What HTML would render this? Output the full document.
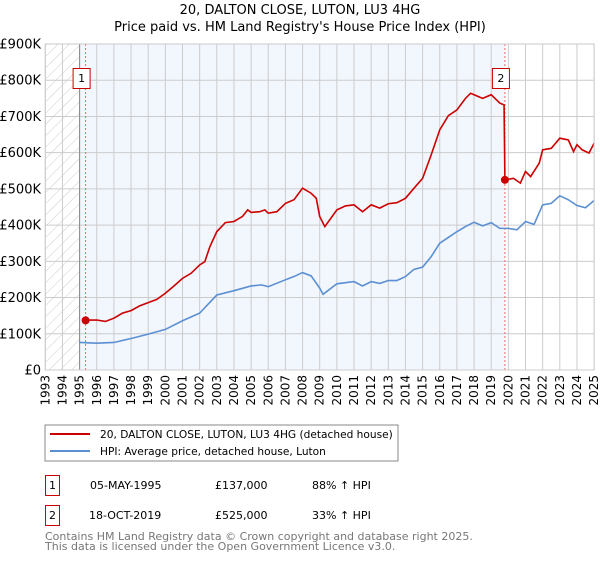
<!DOCTYPE html>
<html><head><meta charset="utf-8"><style>
body{margin:0;background:#fff;font-family:"DejaVu Sans","Liberation Sans",sans-serif;}
svg text{font-family:"DejaVu Sans","Liberation Sans",sans-serif;}
</style></head><body>
<svg id="c" width="600" height="560" xmlns="http://www.w3.org/2000/svg">
<defs><pattern id="hatch" width="8" height="8" patternUnits="userSpaceOnUse" patternTransform="rotate(45)"><line x1="0" y1="0" x2="0" y2="8" stroke="#ccc" stroke-width="1"/></pattern></defs>
<text x="300" y="14" text-anchor="middle" font-size="13">20, DALTON CLOSE, LUTON, LU3 4HG</text>
<text x="300" y="31" text-anchor="middle" font-size="13">Price paid vs. HM Land Registry's House Price Index (HPI)</text>
<g id="plot"></g>
<rect x="45" y="425" width="353" height="36" fill="#fff" stroke="#888"/>
<line x1="50" y1="434" x2="90" y2="434" stroke="#cc0000" stroke-width="2"/>
<text x="100" y="438" font-size="10.6">20, DALTON CLOSE, LUTON, LU3 4HG (detached house)</text>
<line x1="50" y1="451" x2="90" y2="451" stroke="#5b8fd4" stroke-width="2"/>
<text x="100" y="455" font-size="10.6">HPI: Average price, detached house, Luton</text>
<g>
<rect x="45.5" y="475.5" width="14" height="20" fill="none" stroke="#cc0000"/><text x="52.5" y="489" text-anchor="middle" font-size="11">1</text>
<text x="90" y="489" font-size="11">05-MAY-1995</text><text x="215" y="489" font-size="11">£137,000</text><text x="312" y="489" font-size="11">88% ↑ HPI</text></g>
<g>
<rect x="45.5" y="505.5" width="14" height="20" fill="none" stroke="#cc0000"/><text x="52.5" y="519" text-anchor="middle" font-size="11">2</text>
<text x="89" y="519" font-size="11">18-OCT-2019</text><text x="215" y="519" font-size="11">£525,000</text><text x="312" y="519" font-size="11">33% ↑ HPI</text></g>
<text x="45" y="540" font-size="11" fill="#777">Contains HM Land Registry data © Crown copyright and database right 2025.</text>
<text x="45" y="550" font-size="11" fill="#777">This data is licensed under the Open Government Licence v3.0.</text>
</svg>
<script>
const yTicks=[0,100,200,300,400,500,600,700,800,900];
const yTickLabels=["£0","£100K","£200K","£300K","£400K","£500K","£600K","£700K","£800K","£900K"];
const xYears=[1993,1994,1995,1996,1997,1998,1999,2000,2001,2002,2003,2004,2005,2006,2007,2008,2009,2010,2011,2012,2013,2014,2015,2016,2017,2018,2019,2020,2021,2022,2023,2024,2025];
const hpiDates=[1995,1996,1997,1998,1999,2000,2001,2002,2003,2004,2005,2005.6,2006,2007,2007.5,2008,2008.5,2009,2009.2,2010,2011,2011.5,2012,2012.5,2013,2013.5,2014,2014.5,2015,2015.5,2016,2016.5,2017,2017.5,2018,2018.5,2019,2019.5,2020,2020.5,2021,2021.5,2022,2022.5,2023,2023.5,2024,2024.5,2025];
const hpiValues=[76,74,76,87,99,112,136,157,207,219,232,235,230,249,258,269,260,226,209,238,244,232,244,239,247,247,258,278,284,313,350,366,382,396,408,398,407,391,391,387,410,402,456,460,481,470,454,448,468];
const propDates=[1995.35,1996,1996.5,1997,1997.5,1998,1998.5,1999,1999.5,2000,2000.5,2001,2001.5,2002,2002.3,2002.6,2003,2003.5,2004,2004.5,2004.8,2005,2005.5,2005.8,2006,2006.5,2007,2007.5,2008,2008.5,2008.8,2009,2009.3,2010,2010.5,2011,2011.5,2012,2012.5,2013,2013.5,2014,2014.5,2015,2015.5,2016,2016.5,2017,2017.5,2017.8,2018,2018.5,2019,2019.5,2019.75,2019.8,2020.3,2020.7,2021,2021.3,2021.8,2022,2022.5,2023,2023.5,2023.8,2024,2024.3,2024.7,2025];
const propValues=[138,138,134,143,157,164,177,186,195,212,232,253,267,290,299,341,382,407,410,424,442,435,437,442,433,437,460,470,502,488,474,424,396,442,453,456,437,456,447,459,462,474,502,529,594,663,702,718,750,764,760,750,760,737,732,525,529,516,548,534,571,608,612,640,635,603,622,608,599,626];
const saleDates=[1995.35,2019.8];
const salePrices=[137,525];
const saleLabels=["1","2"];
const X=y=>45.3+(y-1993)*17.15, Y=v=>370-v*0.3622;
const NS="http://www.w3.org/2000/svg", g=document.getElementById('plot');
function mk(t,a){const e=document.createElementNS(NS,t);for(const k in a)e.setAttribute(k,a[k]);g.appendChild(e);return e;}
let e;
e=mk('rect',{x:X(1995),y:Y(900),width:X(2019.8)-X(1995),height:Y(0)-Y(900),fill:'#f2f6fd'});


e=mk('rect',{x:X(1993),y:Y(900),width:X(1995)-X(1993),height:Y(0)-Y(900),fill:'url(#hatch)'});


yTicks.forEach((v,i)=>{
 e=mk('line',{x1:X(1993),x2:X(2025),y1:Y(v),y2:Y(v),stroke:'#ccc'});
 
 
 e=mk('text',{x:41,y:Y(v)+4.5,'text-anchor':'end','font-size':13});e.textContent=yTickLabels[i];
 
 
});
xYears.forEach(yr=>{
 e=mk('line',{x1:X(yr),x2:X(yr),y1:Y(900),y2:Y(0),stroke:'#ccc'});
 
 
 e=mk('text',{x:0,y:0,'text-anchor':'end','font-size':12,transform:`translate(${X(yr)+4},375) rotate(-90)`});e.textContent=yr;
 
 
});
e=mk('line',{x1:X(1995),x2:X(1995),y1:Y(900),y2:Y(0),stroke:'#888'});


saleDates.forEach((d,i)=>{
 e=mk('line',{x1:X(d),x2:X(d),y1:Y(900),y2:Y(0),stroke:'#e66','stroke-dasharray':'2,2'});
 
 
});
e=mk('polyline',{points:hpiDates.map((d,i)=>X(d)+','+Y(hpiValues[i])).join(' '),fill:'none',stroke:'#5b8fd4','stroke-width':1.6});


e=mk('polyline',{points:propDates.map((d,i)=>X(d)+','+Y(propValues[i])).join(' '),fill:'none',stroke:'#cc0000','stroke-width':1.6});


saleDates.forEach((d,i)=>{
 e=mk('circle',{cx:X(d),cy:Y(salePrices[i]),r:4,fill:'#cc0000'});
 
 
 e=mk('rect',{x:X(d)-12.5,y:68.5,width:17,height:20,fill:'#fff',stroke:'#cc0000'});
 
 
 e=mk('text',{x:X(d)-4,y:82,'text-anchor':'middle','font-size':11});e.textContent=saleLabels[i];
 
 
});
e=mk('rect',{x:X(1993),y:Y(900),width:X(2025)-X(1993),height:Y(0)-Y(900),fill:'none',stroke:'#ccc'});


</script>
</body></html>
